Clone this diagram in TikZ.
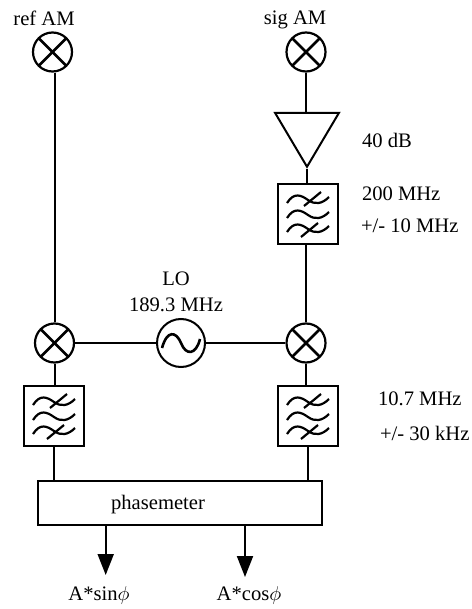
\documentclass[tikz,border=0pt]{standalone}
\usepackage{amsmath,amssymb}
\usepackage{fontspec}
\setmainfont{Liberation Serif}
\usetikzlibrary{arrows.meta,shapes.geometric}
\tikzset{
    mixer/.style={draw,circle,inner sep=0pt,minimum size=19.5pt,line width=1.1pt,path picture={
        \draw[line width=1.3pt] (path picture bounding box.north west)--(path picture bounding box.south east);
        \draw[line width=1.3pt] (path picture bounding box.north east)--(path picture bounding box.south west);}},
    lowpass/.style={draw,rectangle,inner sep=0pt,minimum size=30pt,path picture={
        \begin{scope}[shift={(path picture bounding box.center)},line width=1.1pt]
        \foreach \dy in {-14,1,15} {
            \draw (-21,\dy+3) .. controls (-14,\dy-8) and (-7,\dy-5) .. (0,\dy) .. controls (7,\dy+5) and (14,\dy+4) .. (21,\dy-3);
        }
        \draw (-4,-8)--(13,-22);
        \draw (-7,23)--(10,9);
        \end{scope}}},
    osc/.style={draw,circle,inner sep=0pt,minimum size=24pt,path picture={
        \begin{scope}[shift={(path picture bounding box.center)}]
        \draw[line width=1.3pt] (-19,5) .. controls (-14,-13) and (-5,-12) .. (0,0) .. controls (5,13) and (15,12) .. (19,-4);
        \end{scope}}},
    amp/.style={draw,isosceles triangle,isosceles triangle stretches,shape border rotate=270,inner sep=0pt,minimum width=32pt,minimum height=27pt},
    lbl/.style={inner sep=0pt,font=\fontsize{10.3}{12}\selectfont},
    outarrow/.style={-{Triangle[length=10.5pt,width=8pt]}}
}
\begin{document}
\begin{tikzpicture}[x=0.5pt,y=-0.5pt,line width=1pt]
        \useasboundingbox (0,0) rectangle (471,609);
        % left branch
        \node[mixer] (refam) at (52.5,52) {};
        \node[mixer] (mixl) at (54.5,343) {};
        \node[lowpass] (lpl) at (54,416) {};
        % right branch
        \node[mixer] (sigam) at (306,52) {};
        \node[amp] (gain) at (307,131) {};
        \node[lowpass] (bpf) at (308,214) {};
        \node[mixer] (mixr) at (306,343) {};
        \node[lowpass] (lpr) at (308,416) {};
        \node[osc] (lo) at (181,343) {};
        \node[draw,rectangle,inner sep=0pt,minimum width=142pt,minimum height=22pt] (phase) at (180,503) {};
        \coordinate (sinend) at (105.7,575);
        \coordinate (cosend) at (245,577);
        % connections
        \draw (refam.south -| mixl)--(mixl);
        \draw (mixl)--(lpl.north -| mixl);
        \draw (sigam)--(sigam |- gain.lower side);
        \draw (gain.apex)--(gain.apex |- bpf.north);
        \draw (bpf.south -| mixr)--(mixr);
        \draw (mixr)--(lpr.north -| mixr);
        \draw (mixl)--(lo);
        \draw (lo)--(mixr);
        \draw (lpl.south)--(lpl.south |- phase.north);
        \draw (lpr.south)--(lpr.south |- phase.north);
        \draw[outarrow] (sinend |- phase.south)--(sinend);
        \draw[outarrow] (cosend |- phase.south)--(cosend);
        % labels
        \node[lbl] (reflabel) at (44,18.5) {ref AM};
        \node[lbl] (siglabel) at (295,20) {sig AM};
        \node[lbl,anchor=west] (gainlabel) at (361,140) {40 dB};
        \node[lbl,anchor=west] (bpflabel) at (361,194) {200 MHz};
        \node[lbl,anchor=west] (bwlabel) at (360,226) {+/- 10 MHz};
        \node[lbl] (lolabel) at (176,279) {LO};
        \node[lbl] (lofreq) at (176,305) {189.3 MHz};
        \node[lbl,anchor=west] (iflabel) at (377,399) {10.7 MHz};
        \node[lbl,anchor=west] (ifbw) at (379,433) {+/- 30 kHz};
        \node[lbl] (phaselabel) at (158,505) {phasemeter};
        \node[lbl] (sinlabel) at (99,595) {A*sin$\phi$};
        \node[lbl] (coslabel) at (249,595) {A*cos$\phi$};
\end{tikzpicture}
\end{document}
